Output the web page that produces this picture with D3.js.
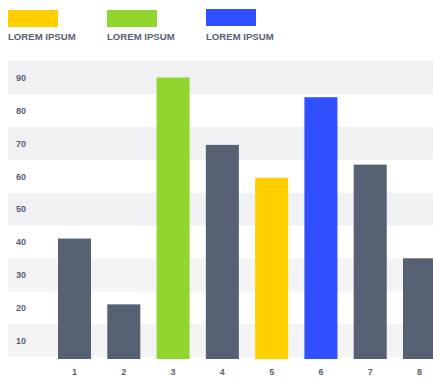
<!DOCTYPE html>
<html>
<head>
<meta charset="utf-8">
<script src="https://cdn.jsdelivr.net/npm/d3@7"></script>
<style>
  html, body { margin: 0; padding: 0; background: #ffffff; }
  svg { display: block; }
  text { font-family: "Liberation Sans", Arial, sans-serif; font-weight: bold; }
</style>
</head>
<body>
<svg id="chart" width="433" height="378"></svg>
<script>
const categories = ["1", "2", "3", "4", "5", "6", "7", "8"];
const values = [41, 21, 90, 69.5, 59.5, 84, 63.5, 35];
const barSeries = ["base", "base", "green", "base", "yellow", "blue", "base", "base"];
const yTicks = [10, 20, 30, 40, 50, 60, 70, 80, 90];
const legendLabels = ["LOREM IPSUM", "LOREM IPSUM", "LOREM IPSUM"];
const legendSeries = ["yellow", "green", "blue"];

const colors = { base: "#566273", yellow: "#ffcf00", green: "#91d52f", blue: "#304ffe" };
const textColor = "#586174";

const svg = d3.select("#chart");

const x = d3.scaleBand().domain(categories).range([58, 436]).paddingInner(0.33).paddingOuter(0);
const y = d3.scaleLinear().domain([10, 90]).range([340.5, 77.5]);
const step = y(0) - y(10);
const baseY = 359;

// background bands
svg.append("g").selectAll("rect")
  .data(yTicks)
  .join("rect")
  .attr("x", 8)
  .attr("width", 425)
  .attr("y", d => y(d) - step / 2)
  .attr("height", step)
  .attr("fill", (d, i) => i % 2 === 1 ? "#ffffff" : (d <= 30 ? "#f4f4f5" : "#f0f1f3"));

// y axis labels
const yAxis = d3.axisLeft(y).tickValues(yTicks).tickSize(0).tickPadding(0);
const ya = svg.append("g").attr("transform", "translate(16,0)").call(yAxis);
ya.select(".domain").remove();
ya.selectAll("text")
  .attr("text-anchor", "start")
  .attr("x", 0)
  .attr("fill", textColor)
  .style("font-size", "9px")
  .style("font-family", "'Liberation Sans', Arial, sans-serif")
  .style("font-weight", "bold");

// bars
svg.append("g").selectAll("rect")
  .data(categories)
  .join("rect")
  .attr("x", d => x(d))
  .attr("width", x.bandwidth())
  .attr("y", (d, i) => y(values[i]))
  .attr("height", (d, i) => baseY - y(values[i]))
  .attr("fill", (d, i) => colors[barSeries[i]]);

// x axis labels
const xAxis = d3.axisBottom(x).tickSize(0).tickPadding(0);
const xa = svg.append("g").attr("transform", "translate(0,368)").call(xAxis);
xa.select(".domain").remove();
xa.selectAll("text")
  .attr("dy", "0.35em")
  .attr("y", 4)
  .attr("fill", textColor)
  .style("font-size", "9px")
  .style("font-family", "'Liberation Sans', Arial, sans-serif")
  .style("font-weight", "bold");

// legend
const lg = svg.append("g").selectAll("g")
  .data(legendLabels)
  .join("g")
  .attr("transform", (d, i) => `translate(${8 + i * 99},0)`);
lg.append("rect")
  .attr("x", 0).attr("y", (d, i) => i === 2 ? 9 : 10)
  .attr("width", 50).attr("height", 17)
  .attr("fill", (d, i) => colors[legendSeries[i]]);
lg.append("text")
  .attr("x", 0).attr("y", 39.5)
  .attr("fill", textColor)
  .style("font-size", "9.6px")
  .text(d => d);
</script>
</body>
</html>
